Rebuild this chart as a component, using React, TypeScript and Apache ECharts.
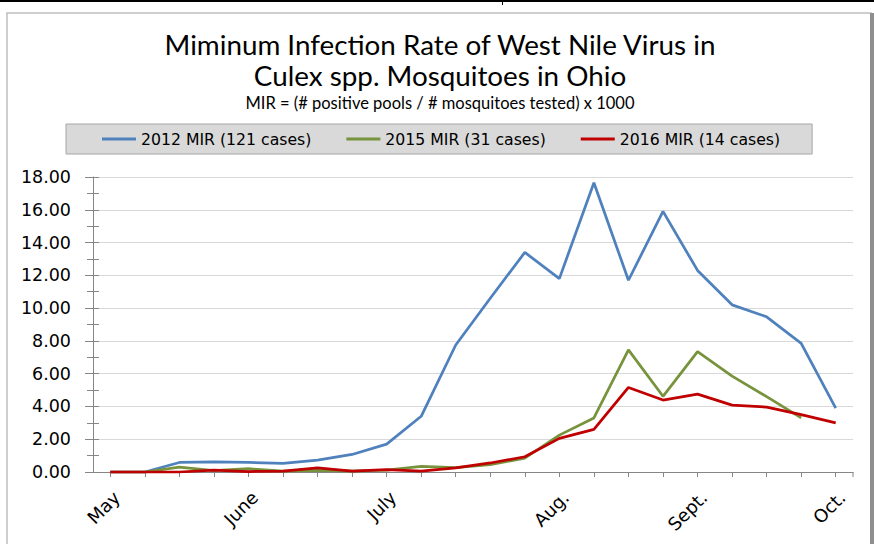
import React, { useEffect, useRef } from "react";
import * as echarts from "echarts";

// Weekly sampling periods (May through early October)
const weekKeys = [
  "W1", "W2", "W3", "W4", "W5", "W6", "W7", "W8", "W9", "W10", "W11",
  "W12", "W13", "W14", "W15", "W16", "W17", "W18", "W19", "W20", "W21", "W22",
];

// Month tick labels shown on the category axis
const monthLabels = [
  "May", "", "", "", "June", "", "", "", "July", "", "", "", "",
  "Aug.", "", "", "", "Sept.", "", "", "", "Oct.",
];

const seriesNames = ["2012 MIR (121 cases)", "2015 MIR (31 cases)", "2016 MIR (14 cases)"];

const mir2012 = [0, 0, 0.58, 0.62, 0.58, 0.52, 0.72, 1.07, 1.7, 3.4, 7.75, 10.6, 13.4, 11.8, 17.65, 11.7, 15.9, 12.3, 10.2, 9.47, 7.85, 3.9];
const mir2015 = [0, 0, 0.3, 0.08, 0.2, 0.05, 0.1, 0.05, 0.12, 0.35, 0.27, 0.45, 0.85, 2.25, 3.3, 7.45, 4.62, 7.34, 5.85, 4.6, 3.3, null];
const mir2016 = [0, 0, 0, 0.12, 0.03, 0.05, 0.25, 0.05, 0.15, 0.05, 0.25, 0.55, 0.93, 2.05, 2.6, 5.16, 4.39, 4.75, 4.08, 3.96, 3.5, 3.0];

const yTicks = { min: 0, max: 18, interval: 2 };

const colors = ["#4f81bd", "#77933c", "#c00000"];

export default function App() {
  const ref = useRef<HTMLDivElement>(null);

  useEffect(() => {
    if (!ref.current) return;
    const chart = echarts.init(ref.current, undefined, { renderer: "svg" });
    const values = [mir2012, mir2015, mir2016];
    const tickFont = { fontFamily: "DejaVu Sans", fontSize: 17.5, color: "#000" };

    chart.setOption({
      animation: false,
      backgroundColor: "#ffffff",
      color: colors,
      title: {
        text: "Miminum Infection Rate of West Nile Virus in\nCulex spp. Mosquitoes in Ohio",
        subtext: "MIR = (# positive pools / # mosquitoes tested) x 1000",
        left: 440,
        textAlign: "center",
        top: 29,
        itemGap: 3,
        padding: 0,
        textStyle: {
          fontFamily: "Lato",
          fontWeight: "normal",
          fontSize: 27.8,
          lineHeight: 31,
          color: "#000",
        },
        subtextStyle: {
          fontFamily: "Lato",
          fontSize: 16.5,
          lineHeight: 17,
          color: "#000",
        },
      },
      legend: {
        data: seriesNames,
        left: 66,
        top: 124,
        padding: [7, 32, 7, 36],
        backgroundColor: "#d9d9d9",
        borderColor: "#a6a6a6",
        borderWidth: 1,
        itemGap: 35,
        itemWidth: 34,
        itemHeight: 3,
        icon: "rect",
        textStyle: { fontFamily: "DejaVu Sans", fontSize: 15.7, color: "#000" },
      },
      grid: { left: 93, right: 21, top: 177, bottom: 72, containLabel: false },
      xAxis: {
        type: "category",
        data: weekKeys,
        boundaryGap: true,
        axisLine: { lineStyle: { color: "#868686", width: 1 } },
        axisTick: { show: true, alignWithLabel: true, interval: 0, length: 5, lineStyle: { color: "#868686" } },
        axisLabel: {
          ...tickFont,
          fontSize: 18,
          interval: 0,
          rotate: 45,
          margin: 16,
          verticalAlign: "top",
          formatter: (_: string, i: number) => monthLabels[i],
        },
        splitLine: { show: false },
      },
      yAxis: [
        {
          type: "value",
          ...yTicks,
          position: "left",
          axisLine: { show: true, lineStyle: { color: "#868686" } },
          axisTick: { show: true, length: 8, lineStyle: { color: "#868686" } },
          minorTick: { show: true, splitNumber: 2, length: 6, lineStyle: { color: "#868686" } },
          axisLabel: { ...tickFont, margin: 22, formatter: (v: number) => v.toFixed(2) },
          splitLine: { show: true, lineStyle: { color: "#d9d9d9", width: 1 } },
        },
        {
          type: "value",
          ...yTicks,
          position: "left",
          offset: 0,
          axisLine: { show: false },
          axisTick: { show: true, inside: true, length: 6, lineStyle: { color: "#868686" } },
          minorTick: { show: true, splitNumber: 2, length: 6, lineStyle: { color: "#868686" } },
          axisLabel: { show: false },
          splitLine: { show: false },
        },
      ],
      series: seriesNames.map((name, k) => ({
        name,
        type: "line",
        yAxisIndex: 0,
        data: values[k],
        symbol: "none",
        lineStyle: { width: 2.75, color: colors[k] },
        itemStyle: { color: colors[k] },
        z: 3 + k,
      })),
      graphic: [
        { type: "rect", shape: { x: 0, y: 0, width: 874, height: 2 }, style: { fill: "#000" }, silent: true },
        { type: "rect", shape: { x: 502, y: 2, width: 1, height: 3 }, style: { fill: "#000" }, silent: true },
        {
          type: "rect",
          shape: { x: 7, y: 13, width: 864, height: 540 },
          style: { fill: "none", stroke: "#bfbfbf", lineWidth: 1.5 },
          silent: true,
        },
        { type: "rect", shape: { x: 870, y: 13, width: 4, height: 531 }, style: { fill: "#8f8f8f" }, silent: true },
        { type: "line", shape: { x1: 853, y1: 472, x2: 853, y2: 477 }, style: { stroke: "#868686", lineWidth: 1 }, silent: true },
      ],
    });

    return () => chart.dispose();
  }, []);

  return (
    <div
      ref={ref}
      style={{ position: "fixed", left: 0, top: 0, width: 874, height: 544, background: "#fff" }}
    />
  );
}
